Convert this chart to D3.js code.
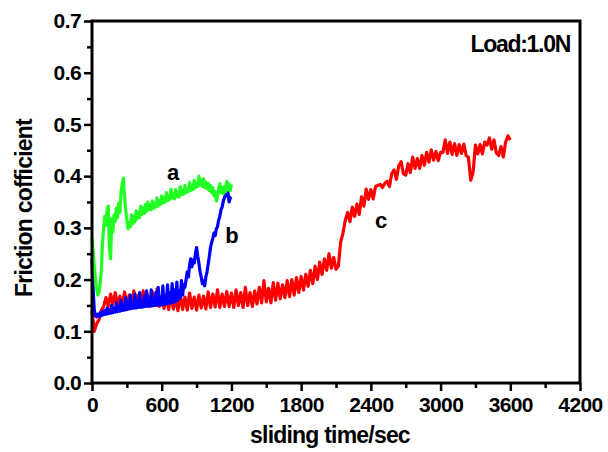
<!DOCTYPE html>
<html>
<head>
<meta charset="utf-8">
<script src="https://cdn.jsdelivr.net/npm/d3@7/dist/d3.min.js"></script>
<style>
body{margin:0;background:#fff;}
text{font-family:"Liberation Sans",Arial,sans-serif;font-weight:bold;}
</style>
</head>
<body>
<script>
var margin = {top: 21, right: 28, bottom: 69, left: 92};
var width = 608 - margin.left - margin.right;
var height = 452 - margin.top - margin.bottom;

var xTicks = [0, 600, 1200, 1800, 2400, 3000, 3600, 4200];
var yTicks = [0.0, 0.1, 0.2, 0.3, 0.4, 0.5, 0.6, 0.7];

// curve a (green), one value every 10 s
var stepA = 10;
var curveA = [0.280,0.255,0.225,0.200,0.182,0.170,0.175,0.192,0.215,0.270,
              0.300,0.322,0.305,0.335,0.342,0.262,0.240,0.318,0.292,0.325,
              0.312,0.338,0.320,0.348,0.330,0.370,0.385,0.396,0.360,0.335,
              0.315,0.298,0.310,0.302,0.325,0.308,0.322,0.312,0.333,0.318,
              0.330,0.320,0.342,0.326,0.338,0.328,0.345,0.332,0.350,0.335,
              0.345,0.335,0.352,0.338,0.348,0.340,0.358,0.342,0.352,0.345,
              0.362,0.348,0.358,0.350,0.368,0.352,0.362,0.355,0.375,0.358,
              0.366,0.356,0.374,0.360,0.368,0.360,0.380,0.364,0.372,0.365,
              0.382,0.368,0.376,0.370,0.388,0.372,0.380,0.374,0.392,0.378,
              0.385,0.380,0.400,0.384,0.392,0.380,0.395,0.378,0.388,0.376,
              0.386,0.372,0.382,0.368,0.378,0.362,0.370,0.352,0.360,0.375,
              0.385,0.368,0.378,0.366,0.380,0.370,0.390,0.374,0.385,0.372,
              0.384];

// curve b (blue), one value every 10 s
var stepB = 10;
var curveB = [0.240,0.180,0.140,0.130,0.128,0.133,0.129,0.136,0.130,0.138,
              0.132,0.140,0.133,0.145,0.134,0.142,0.135,0.150,0.136,0.145,
              0.137,0.155,0.138,0.148,0.139,0.160,0.140,0.150,0.141,0.165,
              0.142,0.155,0.143,0.170,0.144,0.152,0.145,0.172,0.145,0.158,
              0.146,0.175,0.146,0.155,0.147,0.168,0.148,0.178,0.148,0.160,
              0.149,0.180,0.149,0.162,0.150,0.175,0.150,0.185,0.151,0.165,
              0.151,0.188,0.152,0.170,0.153,0.190,0.154,0.175,0.155,0.192,
              0.156,0.180,0.158,0.195,0.160,0.178,0.165,0.198,0.170,0.190,
              0.185,0.200,0.215,0.205,0.228,0.240,0.225,0.238,0.232,0.250,
              0.262,0.245,0.232,0.215,0.205,0.192,0.198,0.188,0.205,0.215,
              0.230,0.245,0.262,0.272,0.280,0.290,0.285,0.298,0.302,0.315,
              0.322,0.335,0.340,0.352,0.358,0.365,0.362,0.368,0.350,0.358,
              0.360];

// curve c (red), one value every 20 s
var stepC = 20;
var curveC = [0.140,0.100,0.115,0.122,0.140,0.148,0.165,0.148,0.172,0.152,
              0.175,0.150,0.168,0.148,0.176,0.152,0.170,0.147,0.178,0.150,
              0.170,0.148,0.178,0.152,0.170,0.148,0.176,0.150,0.182,0.148,
              0.168,0.144,0.166,0.142,0.172,0.143,0.164,0.140,0.170,0.142,
              0.166,0.141,0.174,0.144,0.166,0.141,0.170,0.145,0.168,0.143,
              0.176,0.146,0.172,0.147,0.180,0.146,0.172,0.148,0.177,0.148,
              0.174,0.146,0.180,0.150,0.175,0.146,0.185,0.150,0.175,0.148,
              0.178,0.153,0.185,0.155,0.198,0.157,0.183,0.155,0.194,0.160,
              0.193,0.163,0.190,0.165,0.198,0.167,0.200,0.170,0.204,0.175,
              0.206,0.180,0.210,0.187,0.218,0.192,0.226,0.200,0.234,0.210,
              0.240,0.218,0.250,0.222,0.243,0.220,0.226,0.272,0.290,0.315,
              0.330,0.312,0.340,0.322,0.346,0.326,0.360,0.342,0.375,0.355,
              0.374,0.356,0.380,0.382,0.384,0.378,0.386,0.390,0.380,0.405,
              0.412,0.394,0.420,0.428,0.405,0.402,0.424,0.407,0.437,0.415,
              0.434,0.415,0.440,0.421,0.446,0.427,0.451,0.431,0.448,0.430,
              0.446,0.446,0.470,0.444,0.466,0.442,0.463,0.440,0.461,0.444,
              0.462,0.440,0.436,0.392,0.408,0.460,0.443,0.461,0.443,0.466,
              0.460,0.474,0.452,0.470,0.445,0.440,0.457,0.437,0.466,0.478,
              0.470];

var svg = d3.select("body").append("svg")
            .attr("width", 608)
            .attr("height", 452);
var g = svg.append("g").attr("transform", "translate(" + [margin.left, margin.top] + ")");

var x = d3.scaleLinear().domain([0, 4200]).range([0, width]);
var y = d3.scaleLinear().domain([0, 0.7]).range([height, 0]);

var line = function(step){
    return d3.line()
             .x(function(d, i){ return x(i * step); })
             .y(function(d){ return y(d); });
};

var curves = [{v: curveC, step: stepC, color: "#ff0000"},
              {v: curveB, step: stepB, color: "#0000ff"},
              {v: curveA, step: stepA, color: "#22ff22"}];
curves.forEach(function(c){
    g.append("path").datum(c.v)
     .attr("d", line(c.step))
     .attr("fill", "none")
     .attr("stroke", c.color)
     .attr("stroke-width", 3.2)
     .attr("stroke-linejoin", "round");
});

// minor ticks first, then major ticks with labels
g.append("g").attr("transform", "translate(0," + height + ")")
 .call(d3.axisBottom(x).tickValues(d3.range(300, 4200, 600)).tickSize(5).tickFormat(""));
g.append("g").call(d3.axisLeft(y).tickValues(d3.range(0.05, 0.7, 0.1)).tickSize(5).tickFormat(""));

g.append("g").attr("transform", "translate(0," + height + ")")
 .call(d3.axisBottom(x).tickValues(xTicks).tickSize(8).tickPadding(6).tickFormat(d3.format("d")));
g.append("g")
 .call(d3.axisLeft(y).tickValues(yTicks).tickSize(8).tickPadding(3).tickFormat(d3.format(".1f")));

svg.selectAll(".domain").remove();
svg.selectAll(".tick line").attr("stroke", "#000").attr("stroke-width", 2.5);
svg.selectAll(".tick text").attr("fill", "#000").style("font-size", "21px").style("letter-spacing", "-0.6px");

// frame
g.append("rect").attr("x", 0).attr("y", 0).attr("width", width).attr("height", height)
 .attr("fill", "none").attr("stroke", "#000").attr("stroke-width", 3);

svg.append("text").attr("x", 330).attr("y", 443).attr("text-anchor", "middle")
   .style("font-size", "23px").style("letter-spacing", "-0.8px")
   .text("sliding time/sec");
svg.append("text").attr("transform", "translate(32,208) rotate(-90)").attr("text-anchor", "middle")
   .style("font-size", "23px").style("letter-spacing", "-0.8px")
   .text("Friction cofficient");
svg.append("text").attr("x", 570).attr("y", 52).attr("text-anchor", "end")
   .style("font-size", "23px").style("letter-spacing", "-1.3px")
   .text("Load:1.0N");

var labels = [{t: "a", x: 173, y: 180}, {t: "b", x: 232, y: 243}, {t: "c", x: 381, y: 228}];
svg.selectAll(".curve_label").data(labels).enter()
   .append("text").attr("class", "curve_label")
   .attr("x", function(d){ return d.x; }).attr("y", function(d){ return d.y; })
   .attr("text-anchor", "middle").style("font-size", "22px")
   .text(function(d){ return d.t; });
</script>
</body>
</html>
